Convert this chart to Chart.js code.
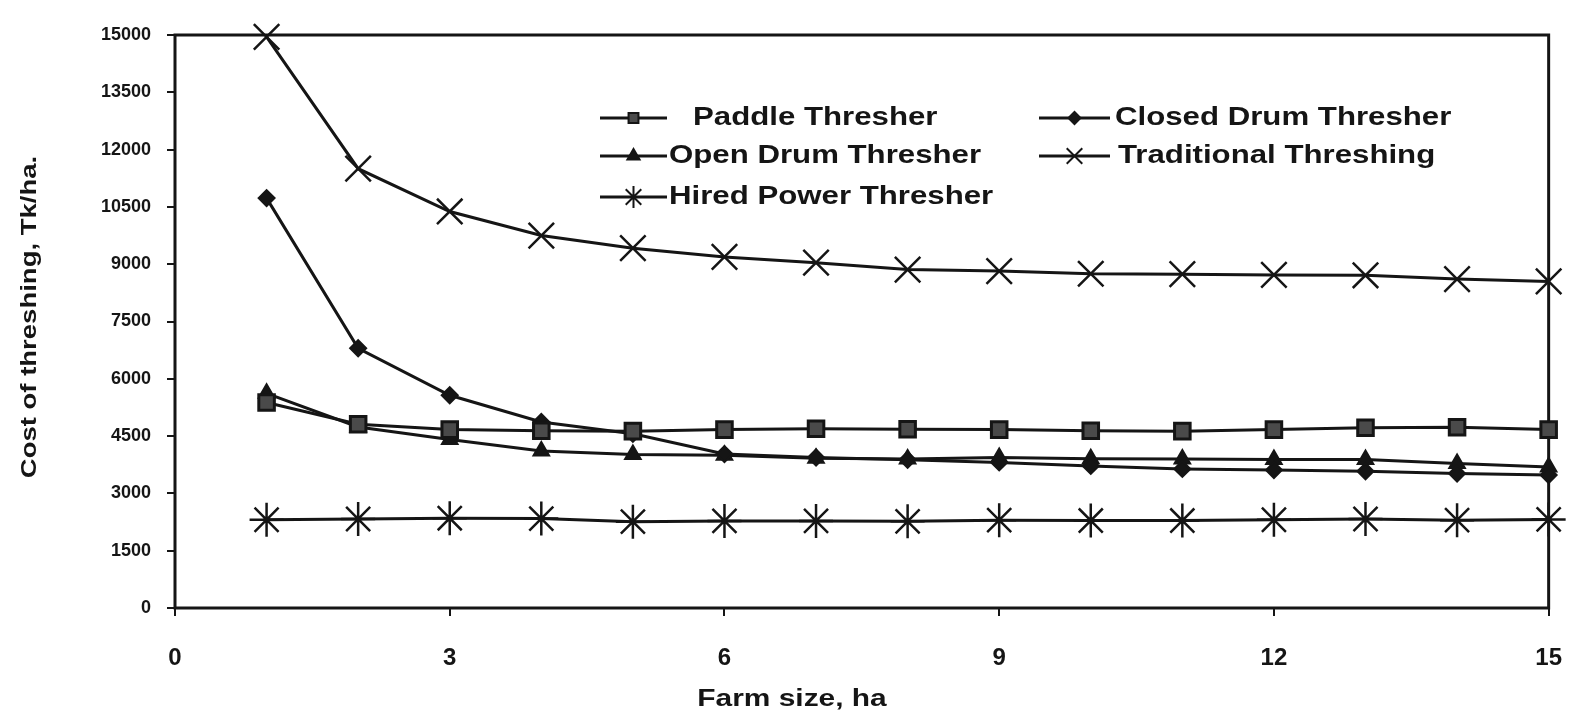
<!DOCTYPE html>
<html>
<head>
<meta charset="utf-8">
<script src="https://cdn.jsdelivr.net/npm/chart.js@4.4.1/dist/chart.umd.min.js"></script>
<style>
html,body{margin:0;padding:0;background:#fff;}
#wrap{width:1590px;height:720px;position:relative;}
</style>
</head>
<body>
<div id="wrap"><canvas id="c" width="1590" height="720"></canvas></div>
<script>
// ---- data ----
const farmSize = [1, 2, 3, 4, 5, 6, 7, 8, 9, 10, 11, 12, 13, 14, 15];
const paddleThresher      = [5380, 4810, 4670, 4640, 4630, 4670, 4690, 4680, 4670, 4640, 4630, 4670, 4720, 4730, 4670];
const closedDrumThresher  = [10730, 6800, 5570, 4870, 4560, 4030, 3940, 3880, 3810, 3720, 3640, 3610, 3580, 3520, 3480];
const openDrumThresher    = [5620, 4740, 4410, 4110, 4020, 4000, 3920, 3900, 3940, 3910, 3900, 3890, 3890, 3780, 3690];
const traditionalThreshing= [14950, 11500, 10380, 9750, 9420, 9190, 9040, 8860, 8820, 8750, 8740, 8720, 8710, 8610, 8550];
const hiredPowerThresher  = [2310, 2330, 2350, 2340, 2260, 2280, 2280, 2270, 2300, 2290, 2290, 2310, 2330, 2300, 2320];

const seriesLabels = ['Paddle Thresher', 'Closed Drum Thresher', 'Open Drum Thresher', 'Traditional Threshing', 'Hired Power Thresher'];
const xTickValues = [0, 3, 6, 9, 12, 15];
const yTickValues = [0, 1500, 3000, 4500, 6000, 7500, 9000, 10500, 12000, 13500, 15000];
const xTitle = 'Farm size, ha';
const yTitle = 'Cost of threshing, Tk/ha.';

// ---- styling ----
const INK = '#151515';
const seriesValues = [paddleThresher, closedDrumThresher, openDrumThresher, traditionalThreshing, hiredPowerThresher];
const seriesStyle = [
  {pointStyle: 'rect',     radius: 11, legendRadius: 7,  bg: '#4a4a4a', bw: 3},
  {pointStyle: 'rectRot',  radius: 8,  legendRadius: 6,  bg: INK,       bw: 2},
  {pointStyle: 'triangle', radius: 9,  legendRadius: 7,  bg: INK,       bw: 2},
  {pointStyle: 'crossRot', radius: 18, legendRadius: 11, bg: INK,       bw: 2.5},
  {pointStyle: 'star',     radius: 17, legendRadius: 11, bg: INK,       bw: 2.5}
];

const datasets = seriesLabels.map((label, i) => ({
  label: label,
  data: farmSize.map((x, j) => ({x: x, y: seriesValues[i][j]})),
  borderColor: INK,
  borderWidth: 3,
  pointStyle: seriesStyle[i].pointStyle,
  pointRadius: seriesStyle[i].radius,
  pointBackgroundColor: seriesStyle[i].bg,
  pointBorderColor: INK,
  pointBorderWidth: seriesStyle[i].bw,
  tension: 0,
  fill: false,
  clip: false
}));

// legend layout (positions only)
const legendLayout = [
  {row: 0, col: 0, textX: 693},
  {row: 0, col: 1, textX: 1115},
  {row: 1, col: 0, textX: 669},
  {row: 1, col: 1, textX: 1118},
  {row: 2, col: 0, textX: 669}
];
const legendRowsY = [118, 156, 197];
const legendColsX = [[600, 667], [1039, 1110]];

function stretchedText(ctx, text, x, y, font, sx, align, rot) {
  ctx.save();
  ctx.translate(x, y);
  if (rot) ctx.rotate(rot);
  ctx.scale(sx, 1);
  ctx.font = font;
  ctx.fillStyle = INK;
  ctx.textAlign = align;
  ctx.textBaseline = 'middle';
  ctx.fillText(text, 0, 0);
  ctx.restore();
}

const framePlugin = {
  id: 'frame',
  beforeDatasetsDraw(chart) {
    const a = chart.chartArea, ctx = chart.ctx;
    ctx.save();
    ctx.strokeStyle = INK;
    ctx.lineWidth = 3;
    ctx.strokeRect(a.left, a.top, a.right - a.left, a.bottom - a.top);
    ctx.restore();
  },
  afterDraw(chart) {
    const ctx = chart.ctx;
    // axis titles
    stretchedText(ctx, xTitle, 792, 700, 'bold 23px "Liberation Sans", Arial, sans-serif', 1.3, 'center', 0);
    stretchedText(ctx, yTitle, 30, 317, 'bold 22px "Liberation Sans", Arial, sans-serif', 1.25, 'center', -Math.PI / 2);
    // legend
    legendLayout.forEach((L, i) => {
      const y = legendRowsY[L.row];
      const [x0, x1] = legendColsX[L.col];
      ctx.save();
      ctx.strokeStyle = INK;
      ctx.lineWidth = 3;
      ctx.beginPath();
      ctx.moveTo(x0, y);
      ctx.lineTo(x1, y);
      ctx.stroke();
      ctx.fillStyle = seriesStyle[i].bg;
      ctx.lineWidth = 2;
      Chart.helpers.drawPoint(ctx, {
        pointStyle: seriesStyle[i].pointStyle,
        radius: seriesStyle[i].legendRadius,
        rotation: 0,
        borderWidth: 2
      }, (x0 + x1) / 2, y);
      ctx.restore();
      stretchedText(ctx, seriesLabels[i], L.textX, y, 'bold 26px "Liberation Sans", Arial, sans-serif', 1.2, 'left', 0);
    });
  }
};

new Chart(document.getElementById('c'), {
  type: 'line',
  data: {datasets: datasets},
  options: {
    responsive: false,
    animation: false,
    devicePixelRatio: 1,
    layout: {padding: {left: 0, right: 23, top: 35, bottom: 0}},
    plugins: {legend: {display: false}, tooltip: {enabled: false}},
    scales: {
      x: {
        type: 'linear',
        min: 0, max: 15,
        afterBuildTicks: s => { s.ticks = xTickValues.map(v => ({value: v})); },
        afterFit: s => { s.height = 112; },
        grid: {drawOnChartArea: false, drawTicks: true, tickLength: 8, color: INK, lineWidth: 2},
        border: {display: false},
        ticks: {color: INK, padding: 28, maxRotation: 0, font: {family: '"Liberation Sans", Arial, sans-serif', size: 24, weight: 'bold'}}
      },
      y: {
        type: 'linear',
        min: 0, max: 15000,
        afterBuildTicks: s => { s.ticks = yTickValues.map(v => ({value: v})); },
        afterFit: s => { s.width = 175; },
        grid: {drawOnChartArea: false, drawTicks: true, tickLength: 8, color: INK, lineWidth: 2},
        border: {display: false},
        ticks: {color: INK, padding: 16, callback: v => String(v), font: {family: '"Liberation Sans", Arial, sans-serif', size: 18, weight: 'bold'}}
      }
    }
  },
  plugins: [framePlugin]
});
</script>
</body>
</html>
